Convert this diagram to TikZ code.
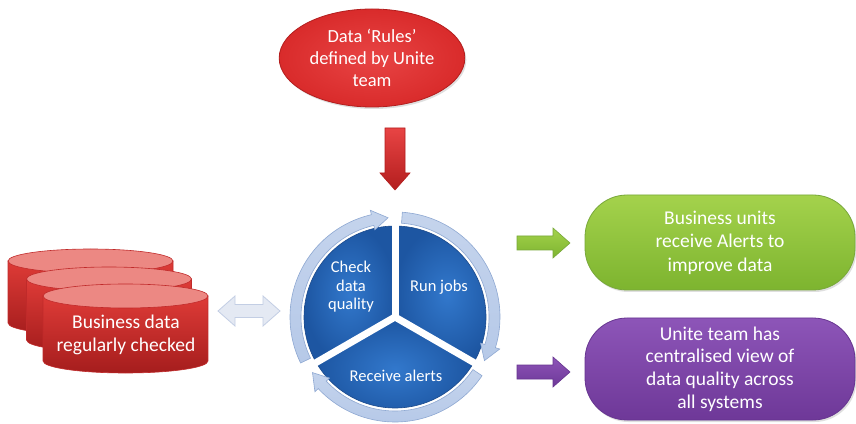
\documentclass[tikz,border=0pt]{standalone}
\usepackage{fontspec}
\setmainfont{Carlito}
\usetikzlibrary{shapes.geometric,shadows}
\definecolor{rulered}{HTML}{D92B2B}
\definecolor{ruleredlt}{HTML}{E84444}
\definecolor{ruleedge}{HTML}{B31E1E}
\definecolor{cylbodytop}{HTML}{DE3B37}
\definecolor{cylbodybot}{HTML}{A51D1D}
\definecolor{cyltopfill}{HTML}{EC8883}
\definecolor{cyledge}{HTML}{C02A2A}
\definecolor{pieinner}{HTML}{3278CC}
\definecolor{pieouter}{HTML}{1D56A2}
\definecolor{pieedge}{HTML}{1B4A8C}
\definecolor{ringfill}{HTML}{B6C9E8}
\definecolor{ringedge}{HTML}{8EA8D2}
\definecolor{dblfill}{HTML}{E4E9F3}
\definecolor{dbledge}{HTML}{C3CEE4}
\definecolor{greentop}{HTML}{A4D24C}
\definecolor{greenbot}{HTML}{7DB42F}
\definecolor{greenedge}{HTML}{78A83A}
\definecolor{purtop}{HTML}{8D55B8}
\definecolor{purbot}{HTML}{6E3898}
\definecolor{puredge}{HTML}{673590}
\newcommand{\dbcyl}[3]{%
  \path[cylbody] ({#1-82.5},#2) -- ({#1-82.5},#3) arc[start angle=180,end angle=360,x radius=82.5,y radius=12] -- ({#1+82.5},#2) -- cycle;
  \path[cyltop] (#1,#2) ellipse[x radius=82.5,y radius=12];}
\begin{document}
\begin{tikzpicture}[x=1pt,y=1pt,
  txt/.style={text=white, align=center, font=\fontsize{19.5}{23.5}\selectfont},
  pietxt/.style={text=white, align=center, font=\fontsize{16.5}{18.5}\selectfont},
  cylbody/.style={top color=cylbodytop, bottom color=cylbodybot, draw=cyledge, line width=0.6pt},
  cyltop/.style={fill=cyltopfill, draw=cyledge, line width=0.6pt},
  pieseg/.style={shading=radial, inner color=pieinner, outer color=pieouter, draw=pieedge, line width=0.6pt},
  ringseg/.style={top color=ringfill!80!white, bottom color=ringfill, draw=ringedge, line width=0.6pt},
  roundbox/.style={rounded corners=42pt, minimum width=270pt, line width=0.8pt, txt,
    drop shadow={opacity=0.25, shadow xshift=1.5pt, shadow yshift=-2pt}}]
\useasboundingbox (0,0) rectangle (856,423);
\fill[white] (0,0) rectangle (856,423);

% rules ellipse
\node[ellipse, draw=ruleedge, line width=0.8pt, shading=radial, inner color=ruleredlt, outer color=rulered,
  minimum width=178pt, minimum height=98pt, txt, font=\fontsize{18.5}{22}\selectfont,
  drop shadow={opacity=0.25, shadow xshift=1.5pt, shadow yshift=-2pt}] (rules) at (372,365)
  {Data ‘Rules’\\defined by Unite\\team};

% red down arrow
\path[top color=ruleredlt, bottom color=ruleedge, draw=ruleedge, line width=0.6pt]
  (385,295) -- (405,295) -- (405,250) -- (410,250) -- (395,233) -- (380,250) -- (385,250) -- cycle;

% cylinders
\dbcyl{90.5}{162}{100}
\dbcyl{109}{144}{83}
\dbcyl{125.5}{127}{62}
\node[txt] (bizdata) at (126,88) {Business data\\regularly checked};

% double arrow
\path[fill=dblfill, draw=dbledge, line width=0.8pt]
  (218,112) -- (235,127) -- (235,118.5) -- (263,118.5) -- (263,127) -- (280,112)
  -- (263,97) -- (263,105.5) -- (235,105.5) -- (235,97) -- cycle;

% cycle
\coordinate (cyc) at (395,106);
\begin{scope}[shift={(395,106)}]
  \path[pieseg] (0,0) -- (90:91) arc[start angle=90,end angle=210,radius=91] -- cycle;
  \path[pieseg] (0,0) -- (-30:91) arc[start angle=-30,end angle=90,radius=91] -- cycle;
  \path[pieseg] (0,0) -- (210:91) arc[start angle=210,end angle=330,radius=91] -- cycle;
  \foreach \a in {90,-30,210} \draw[white, line width=7pt] (0,0) -- (\a:93);
  \foreach \t/\p in {206/94, 86/-26, -34/-146} {
    \pgfmathsetmacro{\hb}{\p+9}
    \path[ringseg] (\t:105) arc[start angle=\t, end angle=\hb, radius=105]
      -- (\hb:109.5) -- (\p:99.5) -- (\hb:89.5) -- (\hb:94)
      arc[start angle=\hb, end angle=\t, radius=94] -- cycle;
  }
\end{scope}
\node[pietxt] (check) at (351,136) {Check\\data\\quality};
\node[pietxt] (runjobs) at (439,136) {Run jobs};
\node[pietxt] (alerts) at (396,47) {Receive alerts};

% side arrows
\path[top color=greentop, bottom color=greenbot, draw=greenedge, line width=0.6pt]
  (517,173) -- (553,173) -- (553,165) -- (570,180) -- (553,195) -- (553,187) -- (517,187) -- cycle;
\path[top color=purtop, bottom color=purbot, draw=puredge, line width=0.6pt]
  (517,44) -- (553,44) -- (553,36) -- (570,51) -- (553,66) -- (553,58) -- (517,58) -- cycle;

% result boxes
\node[roundbox, top color=greentop, bottom color=greenbot, draw=greenedge, minimum height=95pt]
  (units) at (720,180.5) {Business units\\receive Alerts to\\improve data};
\node[roundbox, top color=purtop, bottom color=purbot, draw=puredge, minimum height=102pt,
  font=\fontsize{19.5}{22.7}\selectfont]
  (central) at (720,54) {Unite team has\\centralised view of\\data quality across\\all systems};
\end{tikzpicture}
\end{document}
